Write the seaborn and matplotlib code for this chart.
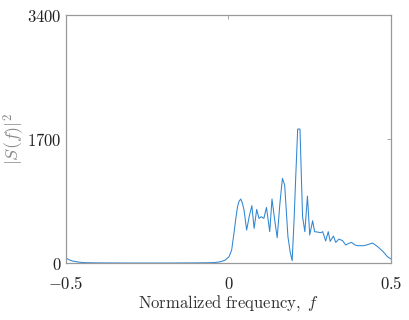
import numpy as np
import pandas as pd
import matplotlib
matplotlib.use('Agg')
import matplotlib.pyplot as plt
import seaborn as sns

# spectrum points
freq = [-0.5, -0.49, -0.48, -0.46, -0.44, -0.40, -0.30, -0.20, -0.10, -0.06,
        -0.04, -0.024, -0.01, 0.002, 0.010, 0.017, 0.023, 0.028, 0.033, 0.038,
        0.043, 0.048, 0.056, 0.064, 0.072, 0.079, 0.087, 0.094, 0.101, 0.109,
        0.117, 0.127, 0.134, 0.142, 0.150, 0.158, 0.166, 0.173, 0.183, 0.190,
        0.196, 0.202, 0.207, 0.213, 0.220, 0.228, 0.235, 0.243, 0.250, 0.259,
        0.265, 0.274, 0.284, 0.290, 0.299, 0.307, 0.313, 0.323, 0.330, 0.340,
        0.351, 0.361, 0.370, 0.379, 0.388, 0.397, 0.417, 0.430, 0.443, 0.458,
        0.475, 0.489, 0.5]
power = [70, 45, 28, 12, 5, 2, 0, 0, 2, 4,
         8, 18, 40, 87, 180, 407, 620, 772, 850, 877,
         820, 727, 452, 640, 786, 475, 735, 612, 635, 612,
         763, 430, 877, 600, 347, 800, 1161, 1069, 361, 150,
         32, 600, 1183, 1837, 1837, 635, 430, 918, 384, 580,
         430, 425, 416, 430, 302, 430, 297, 370, 283, 329,
         306, 247, 270, 283, 250, 238, 238, 255, 274, 228,
         160, 87, 55]

df = pd.DataFrame({'f': freq, 'S2': power})

sns.set_style('white')
plt.rcParams['mathtext.fontset'] = 'cm'
plt.rcParams['font.family'] = ['DejaVu Serif']

fig = plt.figure(figsize=(4.09, 3.2), dpi=100)
ax = fig.add_axes([0.161, 0.178, 0.795, 0.775])

sns.lineplot(data=df, x='f', y='S2', ax=ax, color='#2f86d2', linewidth=0.75,
             sort=False)

ax.set_xlim(-0.5, 0.5)
ax.set_ylim(0, 3400)
ax.set_xticks([-0.5, 0, 0.5])
ax.set_xticklabels(['$-0.5$', '$0$', '$0.5$'])
ax.set_yticks([0, 1700, 3400])
ax.set_yticklabels(['$0$', '$1700$', '$3400$'])
ax.tick_params(direction='in', length=3, width=0.6, colors='#999999',
               labelcolor='#222222', labelsize=12, top=True, right=True)
ax.tick_params(axis='x', pad=9)
ax.tick_params(axis='y', pad=3)

for s in ax.spines.values():
    s.set_visible(True)
    s.set_color('#999999')
    s.set_linewidth(0.9)

ax.set_xlabel(r'$\mathrm{Normalized\ frequency,}\ f$', fontsize=12,
              color='#333333', labelpad=0)
ax.set_ylabel(r'$|S(f)|^2$', fontsize=13, color='#888888', labelpad=0)

fig.savefig('out.png', dpi=100)
